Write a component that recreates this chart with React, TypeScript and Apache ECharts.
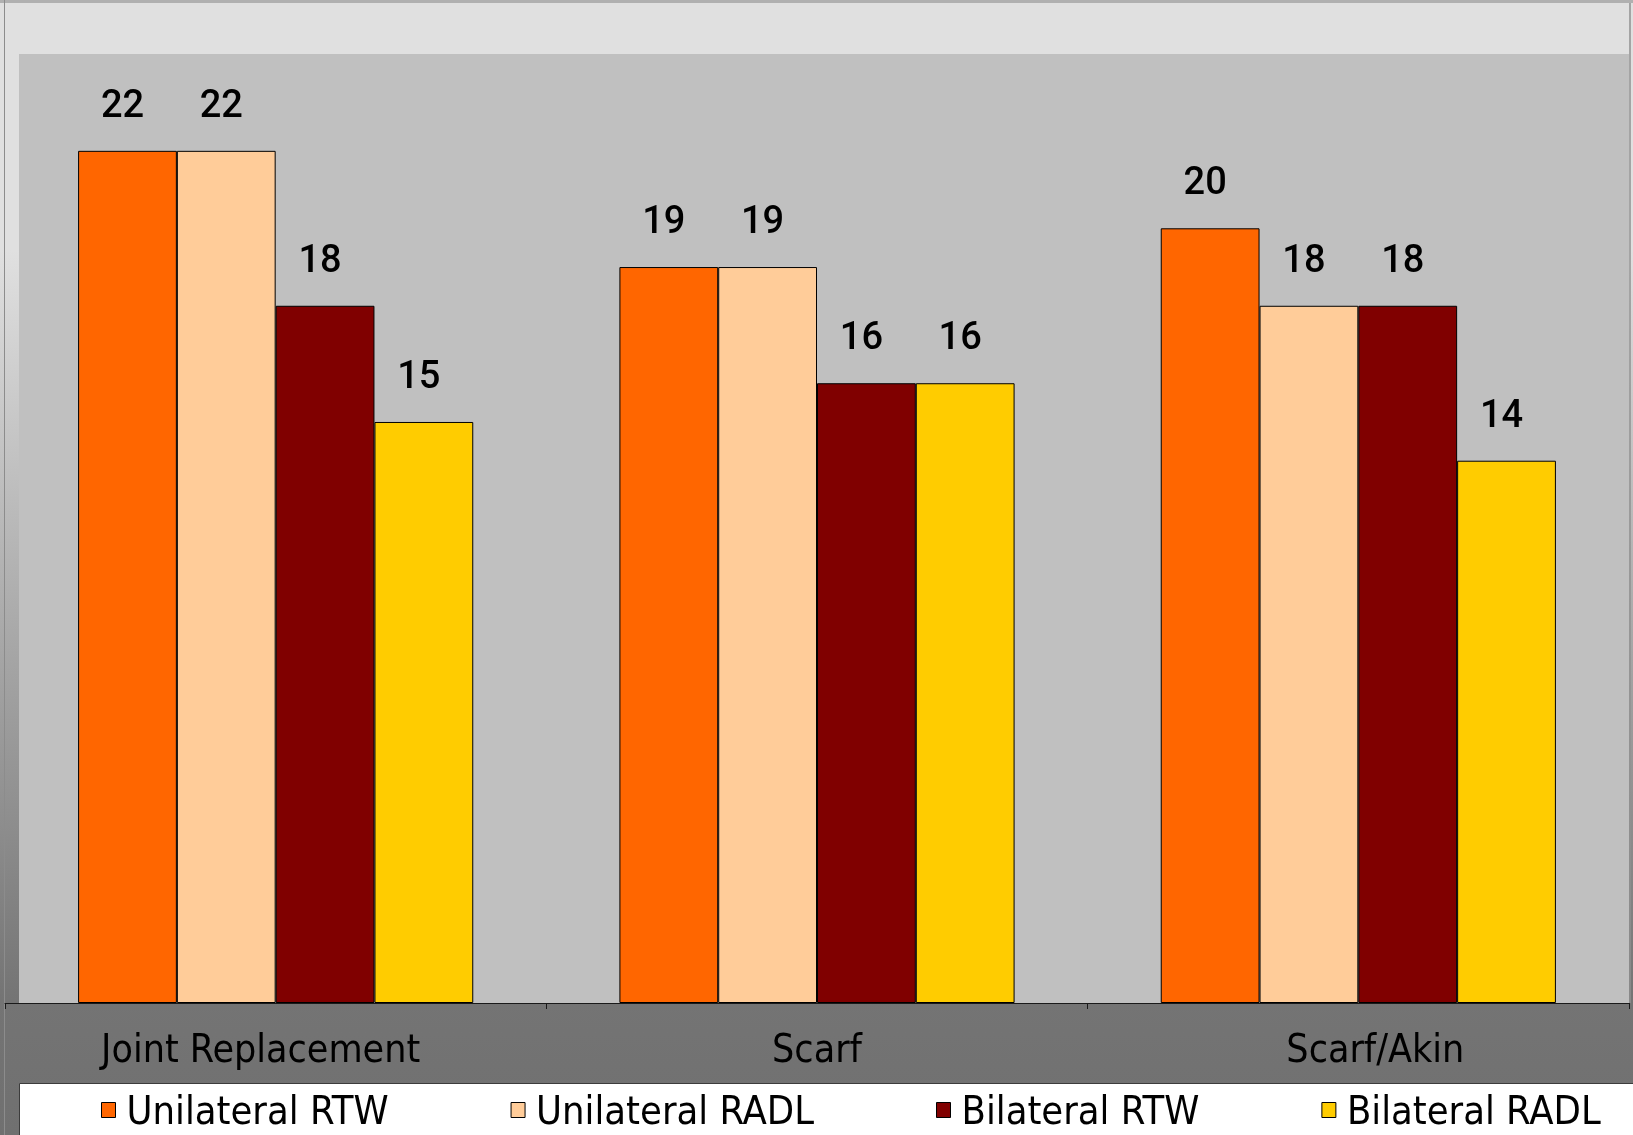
import React, { useEffect, useRef } from "react";
import * as echarts from "echarts";

// Procedure groups on the x axis
const categories = ["Joint Replacement", "Scarf", "Scarf/Akin"];

// Series names and values per procedure group
const seriesNames = ["Unilateral RTW", "Unilateral RADL", "Bilateral RTW", "Bilateral RADL"];
const unilateralRTW = [22, 19, 20];
const unilateralRADL = [22, 19, 18];
const bilateralRTW = [18, 16, 18];
const bilateralRADL = [15, 16, 14];

const seriesColors = ["#FF6600", "#FFCC99", "#800000", "#FFCC00"];

const W = 1633;
const H = 1135;
const GRID = { left: 5, right: 4, top: 54, bottom: 132 };
const LABEL_FONT = "'DejaVu Sans Condensed', 'DejaVu Sans', sans-serif";

// per-category label nudges (rich style keys)
const categoryStyleKeys = ["left", "mid", "right"];

export default function App() {
  const ref = useRef<HTMLDivElement>(null);

  useEffect(() => {
    if (!ref.current) return;
    const chart = echarts.init(ref.current, undefined, { renderer: "svg", width: W, height: H });
    const values = [unilateralRTW, unilateralRADL, bilateralRTW, bilateralRADL];

    const plotBottom = H - GRID.bottom;
    const plotRight = W - GRID.right;
    const catText = { fontFamily: LABEL_FONT, fontSize: 39, color: "#000" };

    chart.setOption({
      animation: false,
      graphic: [
        {
          type: "rect",
          z: -20,
          silent: true,
          shape: { x: 0, y: 0, width: W, height: H },
          style: {
            fill: new echarts.graphic.LinearGradient(0, 0, 0, 1, [
              { offset: 0, color: "#e0e0e0" },
              { offset: 0.22, color: "#e0e0e0" },
              { offset: 0.88, color: "#747474" },
              { offset: 1, color: "#707070" },
            ]),
          },
        },
        {
          type: "rect",
          z: -19,
          silent: true,
          shape: { x: 0, y: 0, width: W, height: 3 },
          style: { fill: "#b0b0b0" },
        },
        {
          type: "line",
          z: -19,
          silent: true,
          shape: { x1: 4.5, y1: 0, x2: 4.5, y2: H },
          style: { stroke: "#8c8c8c", lineWidth: 1 },
        },
        {
          type: "line",
          z: -19,
          silent: true,
          shape: { x1: plotRight + 1, y1: 3, x2: plotRight + 1, y2: plotBottom },
          style: { stroke: "#909090", lineWidth: 1.5 },
        },
        {
          type: "rect",
          z: -18,
          silent: true,
          shape: { x: 19, y: GRID.top, width: plotRight - 19, height: plotBottom - GRID.top },
          style: { fill: "#c0c0c0" },
        },
        {
          type: "rect",
          z: -17,
          silent: true,
          shape: { x: 19.5, y: 1083.5, width: W, height: 80 },
          style: { fill: "#ffffff", stroke: "#3c3c3c", lineWidth: 1 },
        },
      ],
      grid: { ...GRID, containLabel: false },
      legend: {
        left: 101,
        top: 1090,
        padding: 0,
        itemGap: 122,
        itemWidth: 14,
        itemHeight: 15,
        icon: "rect",
        data: seriesNames,
        itemStyle: { borderColor: "#000", borderWidth: 1 },
        textStyle: {
          fontFamily: LABEL_FONT,
          fontSize: 39.5,
          lineHeight: 38,
          color: "#000",
          padding: [0, 0, 0, 6],
        },
      },
      xAxis: {
        type: "category",
        data: categories,
        boundaryGap: true,
        axisLine: { show: true, lineStyle: { color: "#1a1a1a", width: 1 } },
        axisTick: { show: true, interval: 0, length: 6, lineStyle: { color: "#1a1a1a" } },
        axisLabel: {
          interval: 0,
          hideOverlap: false,
          margin: 26,
          ...catText,
          formatter: (v: string, i: number) => `{${categoryStyleKeys[i]}|${v}}`,
          rich: {
            left: { ...catText, padding: [0, 30, 0, 0] },
            mid: { ...catText },
            right: { ...catText, padding: [0, 0, 0, 34] },
          },
        },
        splitLine: { show: false },
      },
      yAxis: {
        type: "value",
        show: false,
        min: 0,
        max: 24.5,
        splitLine: { show: false },
      },
      series: seriesNames.map((name, i) => ({
        name,
        type: "bar",
        data: values[i],
        barGap: "0%",
        barCategoryGap: "27%",
        itemStyle: { color: seriesColors[i], borderColor: "#000", borderWidth: 1 },
        label: {
          show: true,
          position: "top",
          distance: 28,
          offset: [-5, 0],
          fontFamily: "Roboto, sans-serif",
          fontWeight: 500,
          fontSize: 38,
          color: "#000",
        },
      })),
    });

    return () => chart.dispose();
  }, []);

  return (
    <div
      ref={ref}
      style={{ position: "fixed", left: 0, top: 0, width: W, height: H }}
    />
  );
}
